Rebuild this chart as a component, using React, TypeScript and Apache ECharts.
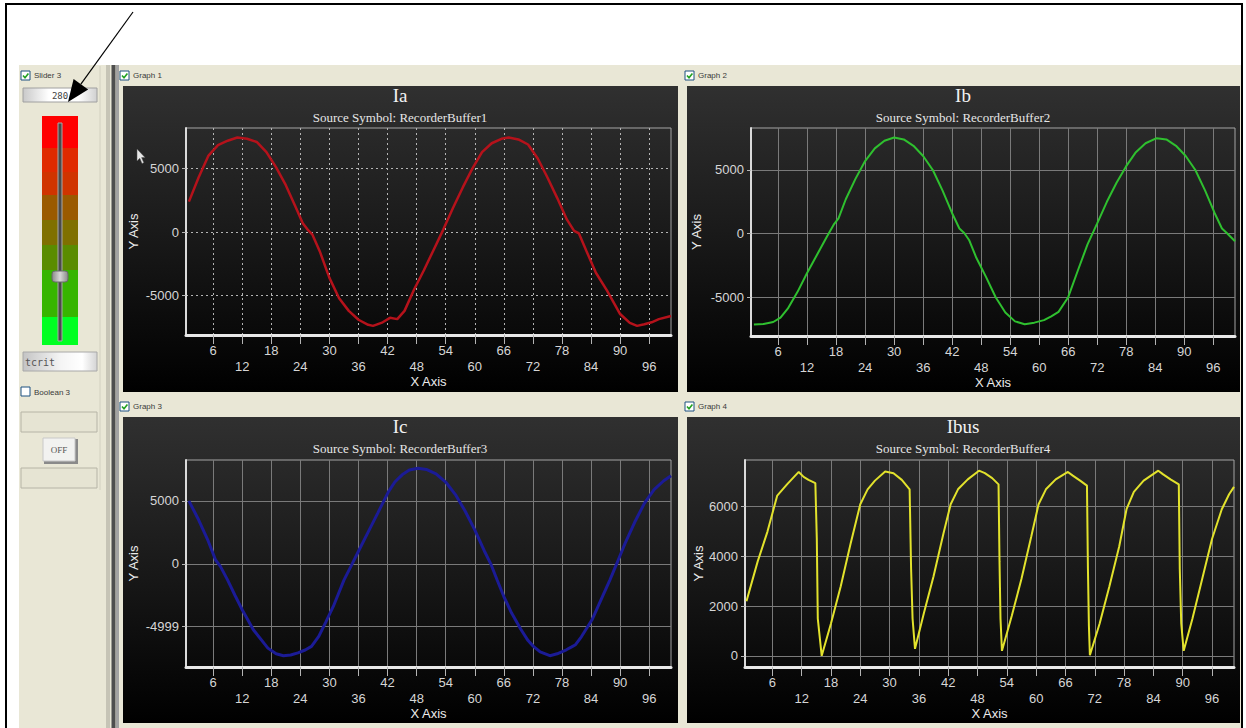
import React, { useEffect, useRef } from 'react';
import * as echarts from 'echarts';

// ---------------- data ----------------
const graphTitles = ['Ia', 'Ib', 'Ic', 'Ibus'];
const sourceSymbols = ['RecorderBuffer1', 'RecorderBuffer2', 'RecorderBuffer3', 'RecorderBuffer4'];
const graphLabels = ['Graph 1', 'Graph 2', 'Graph 3', 'Graph 4'];

const ia: number[][] = [
  [1, 2400], [3, 4300], [5, 6000], [7, 6850], [9, 7200], [11, 7450], [13, 7350], [15, 7100], [17, 6300],
  [19, 5100], [21, 3700], [23, 2000], [24.5, 700], [25.5, 200], [26.5, -200], [28, -1500], [30, -3600],
  [32, -5200], [34, -6200], [36, -6900], [38, -7300], [39, -7380], [41, -7100], [42.5, -6750], [44, -6850],
  [45.5, -6200], [47.5, -4500], [49.5, -3000], [51.5, -1400], [53.5, 200], [55.5, 1900], [57.5, 3500],
  [59.5, 5000], [61.5, 6300], [63.5, 7000], [65.5, 7350], [67, 7450], [69, 7300], [71, 6900], [73, 5800],
  [75, 4300], [77, 2700], [79, 1000], [80.5, 100], [81.5, -100], [83, -1450], [85, -3200], [87.3, -4600],
  [90, -6450], [92, -7150], [93.5, -7380], [95, -7250], [96.5, -7100], [98, -6850], [100.5, -6600],
];

const ib: number[][] = [
  [1, -7150], [3, -7100], [5, -6950], [6.5, -6600], [8, -5900], [10, -4600], [12, -3100], [14, -1700],
  [16, -300], [17.5, 700], [18.5, 1200], [20, 2700], [22, 4300], [24, 5700], [26, 6700], [28, 7300],
  [30, 7550], [32, 7400], [34, 6900], [36, 6100], [38, 5000], [40, 3400], [42, 1600], [43.5, 400],
  [44.5, 50], [45.5, -500], [47, -1900], [49, -3400], [51, -5000], [53, -6200], [55, -6900], [57, -7120],
  [59, -7000], [61, -6800], [62.5, -6500], [64, -6150], [66, -5000], [68, -2900], [70, -850], [72, 800],
  [74, 2500], [76, 4000], [78, 5300], [80, 6400], [82, 7100], [84.3, 7500], [86.3, 7400], [88.3, 6900],
  [90.3, 6100], [92.3, 5000], [94.3, 3400], [96.3, 1600], [97.8, 400], [98.8, 50], [100.5, -600],
];

const ic: number[][] = [
  [1, 5000], [3, 3500], [5, 1800], [6.5, 300], [7.5, -200], [9, -1300], [10.5, -2500], [12, -3650],
  [14.3, -5240], [17.3, -6700], [19, -7150], [20.5, -7300], [22, -7250], [23.5, -7080], [25, -6850],
  [26.3, -6560], [27.8, -5770], [29.3, -4600], [30.8, -3390], [33, -1300], [34.7, 0], [36, 1000],
  [37.7, 2300], [40, 4050], [42.2, 5740], [43.5, 6500], [45, 7070], [46.5, 7450], [48.3, 7600], [50, 7500],
  [52, 7150], [54, 6500], [56, 5500], [58, 4200], [60, 2700], [62, 1000], [63.3, 0], [64.6, -1270],
  [66, -2600], [67.6, -3910], [69.5, -5200], [71, -6100], [72.1, -6560], [73.5, -7000], [75.5, -7300],
  [77, -7150], [78.9, -6830], [80, -6600], [80.8, -6430], [82, -5800], [84.2, -4450], [86, -2900],
  [87.9, -1270], [89.5, 200], [91, 1600], [93, 3300], [95, 4800], [97, 5900], [99, 6600], [100.5, 7000],
];

const ibus: number[][] = [
  [0.7, 2200], [3, 3800], [5, 5000], [7, 6450], [9, 6900], [11.4, 7400], [12.4, 7200], [13.4, 7080],
  [14.8, 6950], [15.1, 4700], [15.3, 1500], [16.1, 0],
  [18, 1300], [20, 2800], [22, 4500], [24, 6100], [25.5, 6700], [27, 7050], [29.1, 7420], [30.8, 7350],
  [32.5, 7080], [34.1, 6700], [34.4, 3500], [34.7, 1500], [35.2, 280],
  [37, 1700], [39, 3200], [41, 4900], [42.5, 6100], [44, 6700], [46, 7100], [48.3, 7450], [49.5, 7350],
  [51, 7150], [52.3, 6900], [52.5, 3800], [52.7, 1500], [53, 200],
  [55, 1600], [57, 3100], [59, 4800], [60.5, 6100], [62, 6700], [64, 7100], [66.5, 7400], [67.5, 7250],
  [69, 7050], [70.4, 6850], [70.6, 3500], [70.8, 1200], [71, 20],
  [73, 1300], [75, 2800], [77, 4400], [78.5, 5900], [80, 6600], [82, 7050], [85, 7450], [86, 7300],
  [87.5, 7100], [89.2, 6900], [89.4, 3500], [89.7, 1300], [90.2, 200],
  [92, 1500], [94, 3100], [96, 4700], [98, 5900], [99.5, 6500], [100.5, 6800],
];

const xTickValues = [6, 12, 18, 24, 30, 36, 42, 48, 54, 60, 66, 72, 78, 84, 90, 96];
const yTicksSine = [-5000, 0, 5000];
const yLabelsAB = ['-5000', '0', '5000'];
const yLabelsC = ['-4999', '0', '5000'];
const yTicksBus = [0, 2000, 4000, 6000];
const yLabelsBus = ['0', '2000', '4000', '6000'];

const sliderLabel = 'Slider 3';
const sliderValue = '280';
const stringValue = 'tcrit';
const booleanLabel = 'Boolean 3';
const booleanText = 'OFF';

// ---------------- layout / style ----------------
const graphs = [
  { data: ia, color: '#b5121b', lw: 2.5, dotted: true, ticks: yTicksSine, labels: yLabelsAB, step: 5000, yMin: -8100, yMax: 8200,
    grid: { left: 186, top: 128, width: 485, height: 207 }, panel: [123, 86, 555, 306], nameGapY: 46, cx: 400, ty: 86, lab: [120, 71] },
  { data: ib, color: '#2fc02f', lw: 2, dotted: false, ticks: yTicksSine, labels: yLabelsAB, step: 5000, yMin: -8050, yMax: 8300,
    grid: { left: 751, top: 128, width: 484, height: 208 }, panel: [687, 86, 553, 306], nameGapY: 48, cx: 963, ty: 86, lab: [685, 71] },
  { data: ic, color: '#1b1b96', lw: 3, dotted: false, ticks: yTicksSine, labels: yLabelsC, step: 5000, yMin: -8200, yMax: 8250,
    grid: { left: 186, top: 460, width: 485, height: 207 }, panel: [123, 417, 555, 306], nameGapY: 46, cx: 400, ty: 417, lab: [120, 402] },
  { data: ibus, color: '#e2e22c', lw: 2, dotted: false, ticks: yTicksBus, labels: yLabelsBus, step: 2000, yMin: -450, yMax: 7880,
    grid: { left: 745, top: 460, width: 489, height: 207 }, panel: [687, 417, 553, 306], nameGapY: 40, cx: 963, ty: 417, lab: [685, 402] },
];

const sliderBands: [string, number, number][] = [
  ['#ff0000', 116, 148], ['#e02a00', 148, 172], ['#d03400', 172, 195], ['#9a5a00', 195, 220],
  ['#7f7000', 220, 245], ['#5a8c00', 245, 270], ['#37b500', 270, 317], ['#00ff22', 317, 345],
];

const SANS = '"Liberation Sans", Arial, sans-serif';
const SERIF = '"Liberation Serif", "Times New Roman", serif';
const MONO = '"DejaVu Sans Mono", monospace';

function checkbox(x: number, y: number, checked: boolean): any[] {
  const els: any[] = [
    { type: 'rect', z: -4, shape: { x, y, width: 9, height: 9 }, style: { fill: '#ffffff', stroke: '#1c5180', lineWidth: 1 } },
  ];
  if (checked) {
    els.push({ type: 'polyline', z: -3, shape: { points: [[x + 2, y + 4.5], [x + 4, y + 6.8], [x + 7.4, y + 2.4]] },
      style: { stroke: '#21a121', lineWidth: 1.6, fill: null } });
  }
  return els;
}

function smallText(x: number, y: number, text: string, font: string, fill = '#3a3a3a', align = 'left'): any {
  return { type: 'text', z: -3, x, y, style: { text, font, fill, textAlign: align, align, textVerticalAlign: 'middle', verticalAlign: 'middle' } };
}

function buildGraphic(): any[] {
  const els: any[] = [];
  els.push({ type: 'rect', z: -10, shape: { x: 6, y: 4, width: 1236, height: 740 }, style: { fill: '#ffffff', stroke: '#000000', lineWidth: 2 } });
  els.push({ type: 'rect', z: -9, shape: { x: 19, y: 65, width: 1222, height: 663 }, style: { fill: '#e9e7d6' } });
  els.push({ type: 'rect', z: -8, shape: { x: 106, y: 65, width: 4, height: 663 }, style: { fill: '#c6c4b6' } });
  els.push({ type: 'rect', z: -8, shape: { x: 111.5, y: 65, width: 4, height: 663 }, style: { fill: '#4e4e4e' } });
  els.push({ type: 'rect', z: -8, shape: { x: 116, y: 65, width: 3, height: 663 }, style: { fill: '#a2a2a2' } });
  els.push({ type: 'line', z: -8, shape: { x1: 100, y1: 66, x2: 100, y2: 490 }, style: { stroke: '#d2d0c0', lineWidth: 1 } });

  graphs.forEach((g, i) => {
    const [px, py, pw, ph] = g.panel;
    els.push({ type: 'rect', z: -8, shape: { x: px, y: py, width: pw, height: ph },
      style: { fill: new echarts.graphic.LinearGradient(0, 0, 0, 1, [
        { offset: 0, color: '#303030' }, { offset: 0.45, color: '#1b1b1b' }, { offset: 1, color: '#000000' }]) } });
    els.push(...checkbox(g.lab[0], g.lab[1], true));
    els.push(smallText(g.lab[0] + 13, g.lab[1] + 4.5, graphLabels[i], '8px ' + SANS));
  });

  els.push(...checkbox(21, 71, true));
  els.push(smallText(34, 75.5, sliderLabel, '8px ' + SANS));
  els.push({ type: 'rect', z: -5, shape: { x: 23, y: 88, width: 74, height: 14 },
    style: { fill: new echarts.graphic.LinearGradient(0, 0, 1, 0, [
      { offset: 0, color: '#c9c9c9' }, { offset: 0.35, color: '#ffffff' }, { offset: 0.75, color: '#ffffff' }, { offset: 1, color: '#d0d0d0' }]),
      stroke: '#a0a0a0', lineWidth: 1 } });
  els.push(smallText(60, 95.5, sliderValue, '9px ' + MONO, '#444444', 'center'));
  sliderBands.forEach(([c, y0, y1]) => {
    els.push({ type: 'rect', z: -5, shape: { x: 42, y: y0, width: 36, height: y1 - y0 }, style: { fill: c } });
  });
  els.push({ type: 'rect', z: -4, shape: { x: 58, y: 123, width: 4, height: 218 }, style: { fill: '#4a4a4a', stroke: '#a8a8a8', lineWidth: 1 } });
  els.push({ type: 'rect', z: -3, shape: { x: 52, y: 271, width: 16, height: 11, r: 3 },
    style: { fill: new echarts.graphic.LinearGradient(0, 0, 1, 0, [
      { offset: 0, color: '#8a8a8a' }, { offset: 0.5, color: '#d8d8d8' }, { offset: 1, color: '#8a8a8a' }]), stroke: '#6a6a6a', lineWidth: 1 } });
  els.push({ type: 'rect', z: -5, shape: { x: 23, y: 352, width: 74, height: 19 },
    style: { fill: new echarts.graphic.LinearGradient(0, 0, 1, 0, [
      { offset: 0, color: '#c4c4c4' }, { offset: 0.5, color: '#f4f4f4' }, { offset: 0.8, color: '#ffffff' }, { offset: 1, color: '#d4d4d4' }]),
      stroke: '#a8a8a8', lineWidth: 1 } });
  els.push(smallText(25, 362, stringValue, '10px ' + MONO, '#555555'));
  els.push(...checkbox(21, 387, false));
  els.push(smallText(34, 392, booleanLabel, '8px ' + SANS));
  els.push({ type: 'rect', z: -5, shape: { x: 21, y: 412, width: 76, height: 20 }, style: { fill: '#e6e4d3', stroke: '#b6b4a6', lineWidth: 1 } });
  els.push({ type: 'rect', z: -5, shape: { x: 44, y: 439, width: 34, height: 25 }, style: { fill: '#8a8a8a' } });
  els.push({ type: 'rect', z: -4, shape: { x: 43, y: 438, width: 32, height: 23 }, style: { fill: '#f2f2f0', stroke: '#c8c8c8', lineWidth: 1 } });
  els.push(smallText(59, 449.5, booleanText, '9px ' + SERIF, '#555555', 'center'));
  els.push({ type: 'rect', z: -5, shape: { x: 21, y: 468, width: 76, height: 20 }, style: { fill: '#e6e4d3', stroke: '#b6b4a6', lineWidth: 1 } });

  els.push({ type: 'polygon', z: 100, shape: { points: [[137, 149], [137, 161], [139.8, 158.3], [142, 163.5], [143.8, 162.7], [141.6, 157.6], [145, 157.4]] },
    style: { fill: '#e8e8e8', stroke: '#555555', lineWidth: 0.5 } });

  const tip = [68, 102];
  const start = [133, 12];
  const dx = tip[0] - start[0], dy = tip[1] - start[1];
  const len = Math.hypot(dx, dy);
  const ux = dx / len, uy = dy / len;
  const hl = 22, hw = 9;
  const bx = tip[0] - hl * ux, by = tip[1] - hl * uy;
  els.push({ type: 'line', z: 100, shape: { x1: start[0], y1: start[1], x2: bx, y2: by }, style: { stroke: '#000000', lineWidth: 1.2 } });
  els.push({ type: 'polygon', z: 100, shape: { points: [[tip[0], tip[1]], [bx - hw * uy, by + hw * ux], [bx + hw * uy, by - hw * ux]] },
    style: { fill: '#000000' } });
  return els;
}

function buildOption(): any {
  const axisText = { color: '#d6d6d6', fontFamily: SANS, fontSize: 13 };
  return {
    animation: false,
    backgroundColor: '#ffffff',
    title: graphs.map((g, i) => ({
      text: graphTitles[i],
      subtext: 'Source Symbol: ' + sourceSymbols[i],
      left: g.cx, top: g.ty, textAlign: 'center', padding: 0, itemGap: 6,
      textStyle: { color: '#f2f2f2', fontFamily: SERIF, fontSize: 19, fontWeight: 'normal', lineHeight: 19 },
      subtextStyle: { color: '#e6e6e6', fontFamily: SERIF, fontSize: 13, lineHeight: 13 },
    })),
    grid: graphs.map((g) => ({
      ...g.grid, show: true, borderColor: '#a4a4a4', borderWidth: 1, backgroundColor: 'transparent',
      containLabel: false, outerBoundsMode: 'none',
    })),
    xAxis: graphs.map((g, i) => ({
      type: 'value', gridIndex: i, min: 0.4, max: 100.5,
      name: 'X Axis', nameLocation: 'middle', nameGap: 40,
      nameTextStyle: { color: '#ececec', fontFamily: SANS, fontSize: 13 },
      axisLine: { show: true, onZero: false, lineStyle: { color: '#e8e8e8', width: 3 } },
      axisTick: { show: true, length: 9, customValues: xTickValues, lineStyle: { color: '#b4b4b4', width: 1 } },
      axisLabel: {
        ...axisText, lineHeight: 16, margin: 7, customValues: xTickValues,
        formatter: (v: number) => (v % 12 === 0 ? '\n' + v : String(v)),
      },
      splitLine: { show: true, lineStyle: { color: g.dotted ? '#b4b4b4' : '#7a7a7a', width: 1, type: g.dotted ? [2, 3] : 'solid' } },
    })),
    yAxis: graphs.map((g, i) => ({
      type: 'value', gridIndex: i, min: g.yMin, max: g.yMax, minInterval: g.step, maxInterval: g.step, splitNumber: 3,
      name: 'Y Axis', nameLocation: 'middle', nameGap: g.nameGapY, nameRotate: 90,
      nameTextStyle: { color: '#ececec', fontFamily: SANS, fontSize: 13 },
      axisLine: { show: true, lineStyle: { color: '#dadada', width: 2 } },
      axisTick: { show: true, length: 4, customValues: g.ticks, lineStyle: { color: '#b4b4b4', width: 1 } },
      axisLabel: {
        ...axisText, margin: 7, customValues: g.ticks,
        formatter: (v: number) => { const k = g.ticks.indexOf(v); return k >= 0 ? g.labels[k] : ''; },
      },
      splitLine: { show: true, lineStyle: { color: g.dotted ? '#b4b4b4' : '#7a7a7a', width: 1, type: g.dotted ? [2, 3] : 'solid' } },
    })),
    series: graphs.map((g, i) => ({
      type: 'line', name: graphTitles[i], xAxisIndex: i, yAxisIndex: i, data: g.data,
      showSymbol: false, symbol: 'none', smooth: false,
      lineStyle: { color: g.color, width: g.lw }, itemStyle: { color: g.color },
    })),
    graphic: { elements: buildGraphic() },
  };
}

export default function App() {
  const ref = useRef<HTMLDivElement>(null);
  useEffect(() => {
    if (!ref.current) return;
    const chart = echarts.init(ref.current, null, { renderer: 'svg' });
    chart.setOption(buildOption());
    return () => chart.dispose();
  }, []);
  return <div ref={ref} style={{ position: 'absolute', left: 0, top: 0, width: 1246, height: 728 }} />;
}
